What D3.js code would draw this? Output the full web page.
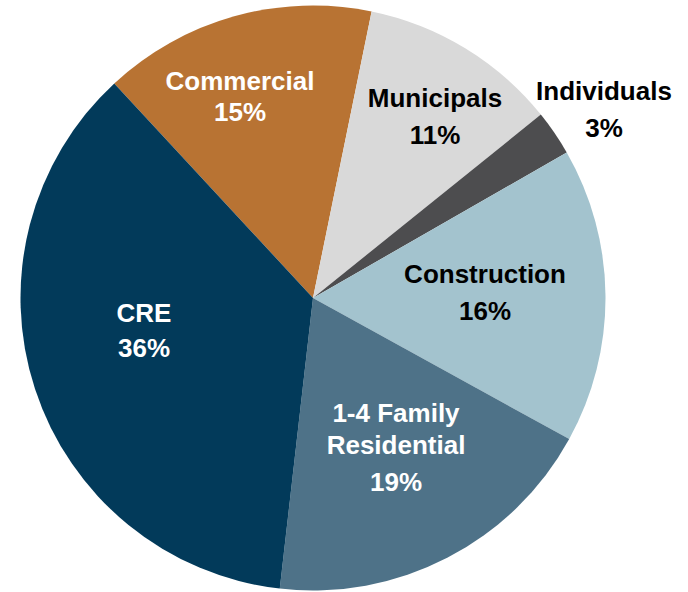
<!DOCTYPE html>
<html>
<head>
<meta charset="utf-8">
<script src="https://cdn.jsdelivr.net/npm/d3@7"></script>
<style>
  html, body { margin: 0; padding: 0; background: #fff; }
  svg { display: block; }
</style>
</head>
<body>
<svg id="chart" width="688" height="592"></svg>
<script>
// ---- data ----
const categories = ["Commercial", "Municipals", "Individuals", "Construction", "1-4 Family Residential", "CRE"];
const labelLines = [["Commercial"], ["Municipals"], ["Individuals"], ["Construction"], ["1-4 Family", "Residential"], ["CRE"]];
const values = [15.1, 11.0, 2.5, 16.3, 18.8, 36.3];
const pctLabels = ["15%", "11%", "3%", "16%", "19%", "36%"];

// ---- styles / layout ----
const colors = ["#B87333", "#D9D9D9", "#4D4D4F", "#A3C3CE", "#4E7288", "#023A5A"];
const textColors = ["#fff", "#000", "#000", "#000", "#fff", "#fff"];
// label anchor (x, first baseline) and baseline gaps, in px
const labelLayout = [
  { x: 240, y: 90, gaps: [31] },
  { x: 435, y: 107, gaps: [36.5] },
  { x: 604, y: 100, gaps: [37] },
  { x: 485, y: 283, gaps: [37] },
  { x: 396, y: 422, gaps: [31.5, 37] },
  { x: 144, y: 322, gaps: [35] }
];

const cx = 313, cy = 298, r = 292.5;
const start = -42.8 * Math.PI / 180;

const svg = d3.select("#chart");
const g = svg.append("g").attr("transform", `translate(${cx},${cy})`);

const pie = d3.pie().sort(null).value(d => d.value)
  .startAngle(start).endAngle(start + 2 * Math.PI);
const arc = d3.arc().innerRadius(0).outerRadius(r);

const data = categories.map((c, i) => ({ name: c, value: values[i], i }));

g.selectAll("path.slice")
  .data(pie(data))
  .join("path")
  .attr("class", "slice")
  .attr("d", arc)
  .attr("fill", d => colors[d.data.i]);

const labels = svg.append("g")
  .attr("font-family", "Arial, 'Liberation Sans', sans-serif")
  .attr("font-weight", "bold")
  .attr("font-size", 26)
  .attr("text-anchor", "middle");

data.forEach((d, i) => {
  const lines = labelLines[i].concat([pctLabels[i]]);
  const L = labelLayout[i];
  let y = L.y;
  lines.forEach((t, k) => {
    if (k > 0) y += L.gaps[k - 1];
    labels.append("text")
      .attr("x", L.x)
      .attr("y", y)
      .attr("fill", textColors[i])
      .text(t);
  });
});
</script>
</body>
</html>
